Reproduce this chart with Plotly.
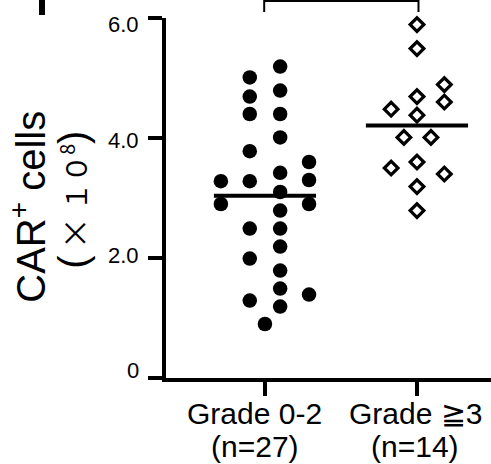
import numpy as np
import plotly.graph_objects as go

# ---- data ----
categories = ["Grade 0-2", "Grade \u22673"]
n_labels = ["(n=27)", "(n=14)"]
grade02_values = [3.28, 2.90,
                  5.01, 4.69, 4.40, 3.78, 3.28, 2.49, 1.99, 1.29,
                  5.19, 4.79, 4.40, 4.01, 3.42, 3.10, 2.79, 2.49, 2.19, 1.79, 1.49, 1.19,
                  3.60, 3.30, 2.90, 1.39,
                  0.90]
grade02_jitter = [-0.29, -0.29,
                  -0.10, -0.10, -0.10, -0.10, -0.10, -0.10, -0.10, -0.10,
                  0.10, 0.10, 0.10, 0.10, 0.10, 0.10, 0.10, 0.10, 0.10, 0.10, 0.10, 0.10,
                  0.29, 0.29, 0.29, 0.29,
                  0.0]
grade3_values = [5.89, 5.49, 4.69, 4.38, 3.60, 3.19, 2.79,
                 4.48, 3.50,
                 4.89, 4.60, 3.40,
                 4.01, 4.01]
grade3_jitter = [0, 0, 0, 0, 0, 0, 0,
                 -0.17, -0.17,
                 0.18, 0.18, 0.18,
                 -0.086, 0.092]
y_tickvals = [0, 2, 4, 6]
y_ticktext = ["0", "2.0", "4.0", "6.0"]

# ---- layout geometry ----
W, H = 491, 464
L, R, T, B = 166, 491, 18, 378.5
XR = [0.349, 2.487]
YR = [0, 6]


def px(xp):
    return (xp - L) / (R - L)


def py(yp):
    return (B - yp) / (B - T)


def xdata_to_paper(v):
    return (v - XR[0]) / (XR[1] - XR[0])


FONT = "Liberation Sans, Arial, sans-serif"
CJK = "Noto Sans CJK JP"

fig = go.Figure()

x1 = [1 + j for j in grade02_jitter]
x2 = [2 + j for j in grade3_jitter]

fig.add_trace(go.Scatter(x=x1, y=grade02_values, mode="markers",
                         marker=dict(symbol="circle", size=14.5, color="black"),
                         showlegend=False, cliponaxis=False))
fig.add_trace(go.Scatter(x=x2, y=grade3_values, mode="markers",
                         marker=dict(symbol="diamond-open", size=10.5, color="black",
                                     line=dict(width=3.2, color="black")),
                         showlegend=False, cliponaxis=False))

# mean lines
half = 0.336
for c, vals in [(1, grade02_values), (2, grade3_values)]:
    m = float(np.mean(vals))
    fig.add_trace(go.Scatter(x=[c - half, c + half], y=[m, m], mode="lines",
                             line=dict(color="black", width=4),
                             showlegend=False, hoverinfo="skip"))

# significance bracket (cut off at top)
bx0, bx1 = xdata_to_paper(0.995), xdata_to_paper(2.01)
fig.add_shape(type="path", xref="paper", yref="paper",
              path=f"M {bx0},{py(12)} L {bx0},{py(1)} L {bx1},{py(1)} L {bx1},{py(12)}",
              line=dict(color="black", width=2))

# partial panel letter at top-left
fig.add_shape(type="rect", xref="paper", yref="paper",
              x0=px(39), x1=px(45), y0=py(15), y1=py(-2),
              fillcolor="black", line=dict(width=0))

# y tick labels (slightly offset from their ticks, as in the original)
label_shift = [8, 2.8, -2.3, -6]
for v, t, s in zip(y_tickvals, y_ticktext, label_shift):
    fig.add_annotation(text=t, xref="paper", yref="y", x=px(140.5), y=v,
                       xanchor="right", yanchor="middle", yshift=s, showarrow=False,
                       font=dict(family=FONT, size=22, color="black"))

# y-axis title (two lines)
fig.add_annotation(text="CAR<sup>+</sup> cells", xref="paper", yref="paper",
                   x=px(28), y=py(207), xanchor="center", yanchor="middle",
                   textangle=-90, showarrow=False,
                   font=dict(family=FONT, size=40, color="black"))
PAREN = "font-family:Liberation Sans;font-size:40px"
line2 = (f'<span style="{PAREN}">(</span> '
         f'<span style="font-size:32px">\u00d7</span> '
         f'\uff11\uff10<sup>8</sup>'
         f'<span style="{PAREN}">)</span>')
fig.add_annotation(text=line2, xref="paper", yref="paper",
                   x=px(73), y=py(200), xanchor="center", yanchor="middle",
                   textangle=-90, showarrow=False,
                   font=dict(family=CJK, size=28, color="black"))

# x category labels
label_x = [254.5, 415]
for cat, nl, lx in zip(categories, n_labels, label_x):
    fig.add_annotation(text=cat, xref="paper", yref="paper", x=px(lx), y=py(414),
                       xanchor="center", yanchor="middle", showarrow=False,
                       font=dict(family=FONT, size=30, color="black"))
    fig.add_annotation(text=nl, xref="paper", yref="paper", x=px(lx), y=py(447),
                       xanchor="center", yanchor="middle", showarrow=False,
                       font=dict(family=FONT, size=30, color="black"))

fig.update_layout(
    width=W, height=H,
    margin=dict(l=L, r=W - R, t=T, b=H - B, pad=0),
    paper_bgcolor="white", plot_bgcolor="white",
    font=dict(family=FONT, color="black"),
    xaxis=dict(range=XR, showgrid=False, zeroline=False, showline=True,
               linecolor="black", linewidth=4, ticks="outside", ticklen=14,
               tickwidth=4, tickcolor="black", tickvals=[1, 2],
               showticklabels=False, fixedrange=True),
    yaxis=dict(range=YR, showgrid=False, zeroline=False, showline=True,
               linecolor="black", linewidth=4, ticks="outside", ticklen=14,
               tickwidth=4, tickcolor="black", tickvals=y_tickvals,
               showticklabels=False, fixedrange=True),
)

fig.write_html("out.html")
